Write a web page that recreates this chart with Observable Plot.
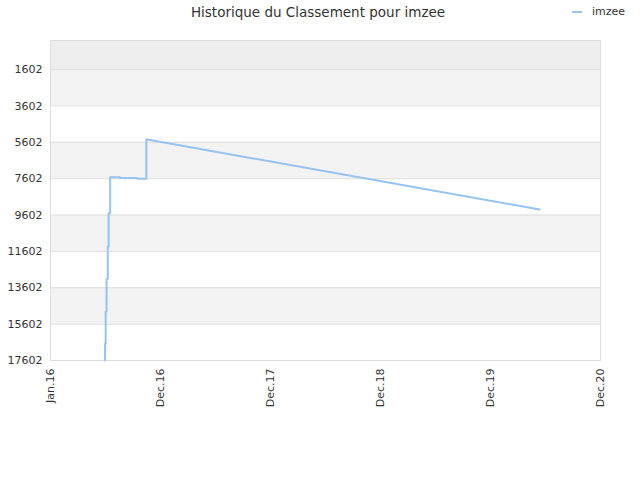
<!DOCTYPE html>
<html><head><meta charset="utf-8">
<script src="https://cdn.jsdelivr.net/npm/d3@7"></script>
<script src="https://cdn.jsdelivr.net/npm/@observablehq/plot@0.6"></script>
<style>
body{margin:0;background:#fff;font-family:"DejaVu Sans",sans-serif;}
#wrap{position:relative;width:640px;height:480px;}
#title{position:absolute;top:4px;left:-2px;width:640px;text-align:center;font-size:13.5px;color:#333;}
#legend{position:absolute;top:5px;left:572px;font-size:11px;color:#333;display:flex;align-items:center;}
#legend span.sw{display:inline-block;width:10px;height:2px;background:#95c3f2;margin-right:10px;}
#chart{position:absolute;top:0;left:0;}
</style></head>
<body><div id="wrap"><div id="title">Historique du Classement pour imzee</div>
<div id="legend"><span class="sw"></span>imzee</div><div id="chart"></div></div>
<script>
const seriesName = "imzee";
const stepDates = ["2016-06-30","2016-07-02","2016-07-05","2016-07-09","2016-07-12","2016-07-17","2016-08-18","2016-10-15","2016-11-14","2016-11-17"];
const stepRanks = [17602,16684,14907,13108,11331,9500,7519,7563,7607,5446];
const trendDates = ["2016-11-17","2020-06-11"];
const trendRanks = [5446,9296];
const yTicks = [1602,3602,5602,7602,9602,11602,13602,15602,17602];
const xTickDates = ["2016-01-01","2016-12-31","2017-12-31","2018-12-31","2019-12-31","2020-12-30"];
const xDomain = ["2016-01-01","2020-12-30"];

const d = s => new Date(s + "T00:00:00Z");
const steps = stepDates.map((s,i)=>({date:d(s), rank:stepRanks[i]}));
const trend = trendDates.map((s,i)=>({date:d(s), rank:trendRanks[i]}));
const yEdges = [0, ...yTicks];
const bands = yEdges.slice(0,-1).map((v,i)=>({y1:v, y2:yEdges[i+1], fill: i===0 ? "#eeeeee" : (i%2===1 ? "#f3f3f3" : "#ffffff")}));
const x0 = d(xDomain[0]), x1 = d(xDomain[1]);

const chart = Plot.plot({
  width:640, height:480,
  marginLeft:50, marginRight:40, marginTop:40, marginBottom:120,
  style:{fontFamily:"DejaVu Sans, sans-serif", fontSize:"11px", color:"#333", background:"transparent"},
  x:{type:"utc", domain:[x0,x1]},
  y:{domain:[0,17602], reverse:true},
  marks:[
    Plot.rect(bands,{x1:()=>x0, x2:()=>x1, y1:"y1", y2:"y2", fill:"fill"}),
    Plot.ruleY(yTicks,{stroke:"#dddddd"}),
    Plot.frame({stroke:"#dcdcdc"}),
    Plot.axisY({ticks:yTicks, tickSize:0, tickPadding:8, tickFormat:d=>String(d), label:null}),
    Plot.axisX({ticks:xTickDates.map(d), tickSize:0, tickPadding:8, tickRotate:-90, tickFormat:d3.utcFormat("%b.%y"), label:null}),
    Plot.line(steps,{x:"date", y:"rank", curve:"step-before", stroke:"#95c3f2", strokeWidth:2}),
    Plot.line(trend,{x:"date", y:"rank", stroke:"#95c3f2", strokeWidth:2})
  ]
});
document.getElementById("chart").appendChild(chart);
</script></body></html>
